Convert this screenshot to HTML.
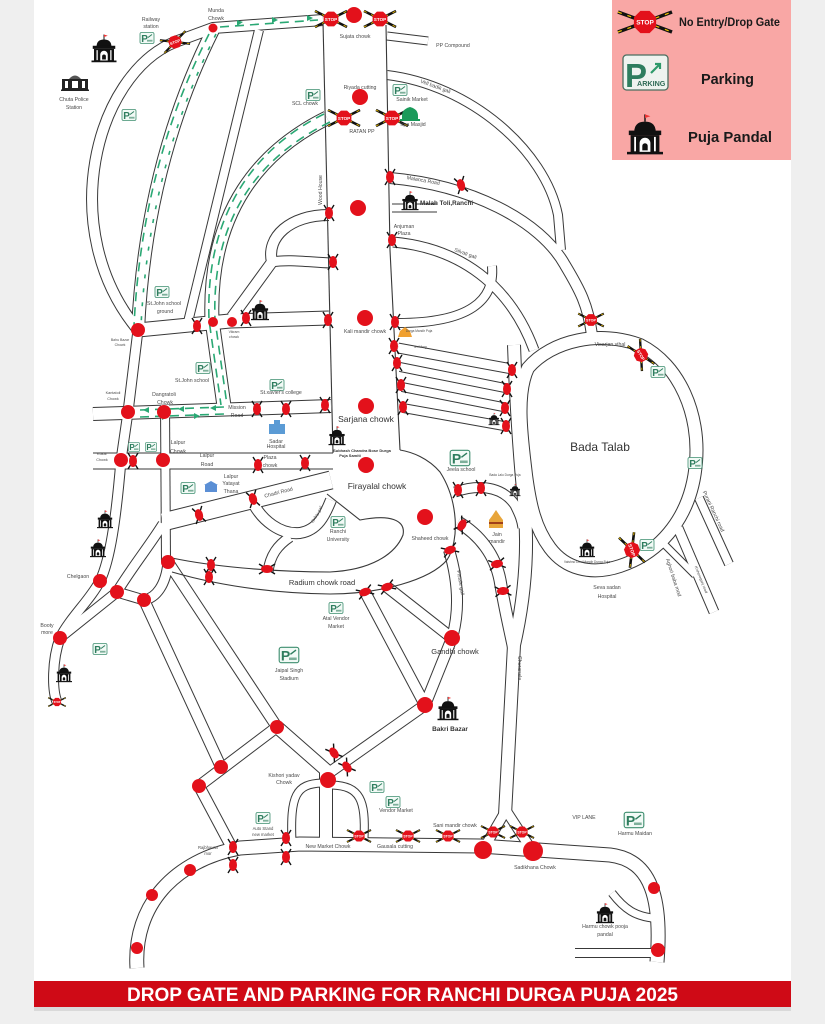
<!DOCTYPE html>
<html><head><meta charset="utf-8"><style>
html,body{margin:0;padding:0;background:#efefef;}
svg{display:block;}
text{font-family:"Liberation Sans",sans-serif;}
</style></head><body>
<svg width="825" height="1024" viewBox="0 0 825 1024" xmlns="http://www.w3.org/2000/svg">
<defs>
<g id="g">
<line x1="-5" y1="-8" x2="5" y2="8" stroke="#111" stroke-width="1.4"/>
<line x1="5" y1="-8" x2="-5" y2="8" stroke="#111" stroke-width="1.4"/>
<ellipse rx="4" ry="6" fill="#e3111b"/>
</g>
<g id="S">
<line x1="-16" y1="-8" x2="16" y2="8" stroke="#111" stroke-width="2.6"/>
<line x1="-16" y1="8" x2="16" y2="-8" stroke="#111" stroke-width="2.6"/>
<line x1="-16" y1="-8" x2="16" y2="8" stroke="#f0c000" stroke-width="0.9" stroke-dasharray="3 5"/>
<line x1="-16" y1="8" x2="16" y2="-8" stroke="#f0c000" stroke-width="0.9" stroke-dasharray="3 5"/>
<polygon points="7.4,3.1 3.1,7.4 -3.1,7.4 -7.4,3.1 -7.4,-3.1 -3.1,-7.4 3.1,-7.4 7.4,-3.1" fill="#e3111b"/>
<text x="0" y="1.8" font-size="4.6" font-weight="bold" fill="#fff" text-anchor="middle">STOP</text>
</g>
<g id="pd">
<path d="M0,-22 L0,-18" stroke="#111" stroke-width="0.8"/>
<path d="M0,-22 L3,-21 L0,-20Z" fill="#e33"/>
<path d="M-6,-12 Q-6,-18 0,-18 Q6,-18 6,-12Z" fill="#111"/>
<rect x="-9" y="-13" width="18" height="2.5" fill="#111"/>
<rect x="-8" y="-10.5" width="16" height="9.5" fill="#111"/>
<rect x="-6" y="-9.5" width="1" height="8" fill="#fff"/>
<rect x="5" y="-9.5" width="1" height="8" fill="#fff"/>
<path d="M-3,-1 L-3,-6 A3,3 0 0 1 3,-6 L3,-1Z" fill="#fff"/>
<path d="M-1.5,-2 L-1.5,-4.5 A1.5,1.5 0 0 1 1.5,-4.5 L1.5,-2Z" fill="#111"/>
<rect x="-10" y="-1.2" width="20" height="1.4" fill="#111"/>
</g>
<g id="pk">
<rect x="-7" y="-5.5" width="14" height="11" rx="1.5" fill="#f2faf6" stroke="#3f8f70" stroke-width="0.8"/>
<text x="-5.8" y="3.8" font-size="10" font-weight="bold" fill="#2e7d5e">P</text>
<path d="M1,-0.5 L5,-3.5" stroke="#2e7d5e" stroke-width="1"/>
<rect x="0" y="1.8" width="5.5" height="1.8" fill="#2e7d5e" opacity="0.6"/>
</g>
</defs>

<rect x="0" y="0" width="825" height="1024" fill="#efefef"/>
<rect x="34" y="0" width="757" height="1008" fill="#ffffff"/>

<!-- road casings -->
<g fill="none" stroke="#383838" stroke-linejoin="round">
<path d="M175,42 L213,28 L323,20" stroke-width="12"/>
<path d="M175,42 C95,75 55,230 138,330" stroke-width="12"/>
<path d="M213,30 C188,80 145,180 138,330" stroke-width="14"/>
<path d="M259,30 L188,322" stroke-width="10"/>
<path d="M327,118 C262,150 208,210 212,320 L224,406" stroke-width="15"/>
<path d="M138,330 L230,321 L329,318" stroke-width="15"/>
<path d="M329,215 C290,215 266,237 272,262 L232,317" stroke-width="12"/>
<path d="M272,262 C288,259 308,262 330,263" stroke-width="11"/>
<path d="M93,414 L331,406" stroke-width="14"/>
<path d="M93,461 L333,461" stroke-width="17"/>
<path d="M163,522 L331,480" stroke-width="19"/>
<path d="M138,330 L128,412 L121,460 C116,520 110,560 100,581 C90,600 70,618 60,638 C52,660 52,690 57,702" stroke-width="11"/>
<path d="M165,405 L166,562" stroke-width="10"/>
<path d="M163,524 C150,545 130,570 117,592 L62,636" stroke-width="11"/>
<path d="M168,562 C166,585 156,598 144,600 L117,592" stroke-width="11"/>
<path d="M144,600 L221,767" stroke-width="12"/>
<path d="M168,562 L277,727" stroke-width="12"/>
<path d="M277,727 L199,786" stroke-width="12"/>
<path d="M199,786 L232,848" stroke-width="12"/>
<path d="M277,727 L326,770 L326,842" stroke-width="14"/>
<path d="M425,705 L330,772" stroke-width="12"/>
<path d="M292,842 C290,795 296,784 322,783" stroke-width="9"/>
<path d="M332,785 C360,786 366,800 364,838" stroke-width="9"/>
<path d="M137,968 C133,905 175,860 240,848 L300,844 L480,846 L610,855 C652,860 662,900 657,962" stroke-width="15"/>
<path d="M575,953 L655,953" stroke-width="10"/>
<path d="M612,893 C625,910 636,916 652,918" stroke-width="9"/>
<path d="M390,178 C470,185 540,220 565,265 C580,290 588,305 592,335" stroke-width="12"/>
<path d="M387,75 C470,85 545,150 558,215 L561,250" stroke-width="10"/>
<path d="M393,242 C460,248 510,285 534,350" stroke-width="11"/>
<path d="M398,323 C470,323 495,300 492,266" stroke-width="10"/>
<path d="M398,348 L512,369" stroke-width="11"/>
<path d="M400,367 L510,389" stroke-width="10"/>
<path d="M402,387 L508,408" stroke-width="10"/>
<path d="M403,408 L509,427" stroke-width="10"/>
<path d="M514,345 C516,400 520,460 524,500 C530,560 522,610 514,645 L505,815" stroke-width="14"/>
<path d="M505,812 L483,850" stroke-width="11"/>
<path d="M507,812 L533,852" stroke-width="11"/>
<path d="M455,492 C485,482 505,490 515,505 C520,515 522,520 523,528" stroke-width="11"/>
<path d="M458,522 C480,535 495,555 500,580 C505,610 510,630 514,650" stroke-width="13"/>
<path d="M449,550 C458,580 460,610 452,638" stroke-width="12"/>
<path d="M452,638 L425,705" stroke-width="12"/>
<path d="M365,592 L425,705" stroke-width="12"/>
<path d="M387,587 L452,638" stroke-width="12"/>
<path d="M253,503 C262,520 280,535 300,533 C318,530 325,515 331,500" stroke-width="12"/>
<path d="M290,537 C278,545 270,555 268,572" stroke-width="11"/>
<path d="M387,36 L428,41" stroke-width="9"/>
<path d="M392,208 L437,208" stroke-width="9"/>
<path d="M528,368 C552,340 600,330 640,345 C680,365 700,415 696,462 C692,515 662,552 620,566 C590,576 565,568 550,548 C535,528 530,505 526,475 C522,440 515,395 528,368 Z" stroke-width="14"/>
<path d="M699,498 L729,564" stroke-width="10"/>
<path d="M678,528 L714,612" stroke-width="11"/>
<path d="M665,545 L695,575" stroke-width="8"/>
</g>
<!-- road fills -->
<g fill="none" stroke="#fff" stroke-linejoin="round">
<path d="M175,42 L213,28 L323,20" stroke-width="10"/>
<path d="M175,42 C95,75 55,230 138,330" stroke-width="10"/>
<path d="M213,30 C188,80 145,180 138,330" stroke-width="12"/>
<path d="M259,30 L188,322" stroke-width="8"/>
<path d="M327,118 C262,150 208,210 212,320 L224,406" stroke-width="13"/>
<path d="M138,330 L230,321 L329,318" stroke-width="13"/>
<path d="M329,215 C290,215 266,237 272,262 L232,317" stroke-width="10"/>
<path d="M272,262 C288,259 308,262 330,263" stroke-width="9"/>
<path d="M93,414 L331,406" stroke-width="12"/>
<path d="M93,461 L333,461" stroke-width="15"/>
<path d="M163,522 L331,480" stroke-width="17"/>
<path d="M138,330 L128,412 L121,460 C116,520 110,560 100,581 C90,600 70,618 60,638 C52,660 52,690 57,702" stroke-width="9"/>
<path d="M165,405 L166,562" stroke-width="8"/>
<path d="M163,524 C150,545 130,570 117,592 L62,636" stroke-width="9"/>
<path d="M168,562 C166,585 156,598 144,600 L117,592" stroke-width="9"/>
<path d="M144,600 L221,767" stroke-width="10"/>
<path d="M168,562 L277,727" stroke-width="10"/>
<path d="M277,727 L199,786" stroke-width="10"/>
<path d="M199,786 L232,848" stroke-width="10"/>
<path d="M277,727 L326,770 L326,842" stroke-width="12"/>
<path d="M425,705 L330,772" stroke-width="10"/>
<path d="M292,842 C290,795 296,784 322,783" stroke-width="7"/>
<path d="M332,785 C360,786 366,800 364,838" stroke-width="7"/>
<path d="M137,968 C133,905 175,860 240,848 L300,844 L480,846 L610,855 C652,860 662,900 657,962" stroke-width="13"/>
<path d="M575,953 L655,953" stroke-width="8"/>
<path d="M612,893 C625,910 636,916 652,918" stroke-width="7"/>
<path d="M390,178 C470,185 540,220 565,265 C580,290 588,305 592,335" stroke-width="10"/>
<path d="M387,75 C470,85 545,150 558,215 L561,250" stroke-width="8"/>
<path d="M393,242 C460,248 510,285 534,350" stroke-width="9"/>
<path d="M398,323 C470,323 495,300 492,266" stroke-width="8"/>
<path d="M398,348 L512,369" stroke-width="9"/>
<path d="M400,367 L510,389" stroke-width="8"/>
<path d="M402,387 L508,408" stroke-width="8"/>
<path d="M403,408 L509,427" stroke-width="8"/>
<path d="M514,345 C516,400 520,460 524,500 C530,560 522,610 514,645 L505,815" stroke-width="12"/>
<path d="M505,812 L483,850" stroke-width="9"/>
<path d="M507,812 L533,852" stroke-width="9"/>
<path d="M455,492 C485,482 505,490 515,505 C520,515 522,520 523,528" stroke-width="9"/>
<path d="M458,522 C480,535 495,555 500,580 C505,610 510,630 514,650" stroke-width="11"/>
<path d="M449,550 C458,580 460,610 452,638" stroke-width="10"/>
<path d="M452,638 L425,705" stroke-width="10"/>
<path d="M365,592 L425,705" stroke-width="10"/>
<path d="M387,587 L452,638" stroke-width="10"/>
<path d="M253,503 C262,520 280,535 300,533 C318,530 325,515 331,500" stroke-width="10"/>
<path d="M290,537 C278,545 270,555 268,572" stroke-width="9"/>
<path d="M387,36 L428,41" stroke-width="7"/>
<path d="M392,208 L437,208" stroke-width="7"/>
<path d="M528,368 C552,340 600,330 640,345 C680,365 700,415 696,462 C692,515 662,552 620,566 C590,576 565,568 550,548 C535,528 530,505 526,475 C522,440 515,395 528,368 Z" stroke-width="12"/>
<path d="M699,498 L729,564" stroke-width="8"/>
<path d="M678,528 L714,612" stroke-width="9"/>
<path d="M665,545 L695,575" stroke-width="6"/>
</g>
<!-- single lines -->
<g fill="none" stroke="#383838" stroke-width="1.1">
<path d="M323,22 L333,453"/>
<path d="M386,25 L390,250 L400,450"/>
<path d="M172,558 C210,566 270,572 330,572 C370,570 395,555 403,535 C406,520 390,514 360,520 L327,494"/>
<path d="M172,572 C210,583 260,593 330,594 C380,594 430,580 447,560 C460,540 458,500 440,472 C428,458 412,452 400,450"/>
</g>

<!-- green arrow lanes -->
<g fill="none" stroke="#2aa874" stroke-width="1.6" stroke-dasharray="9 6">
<path d="M220,27 L318,20"/>
<path d="M209,34 C184,84 141,180 134,326"/>
<path d="M216,34 C191,84 148,182 141,326" stroke-dasharray="4 10"/>
<path d="M324,114 C259,146 205,209 209,320 L221,405"/>
<path d="M330,122 C265,154 211,211 215,320 L227,405"/>
<path d="M140,410 L224,407"/>
<path d="M140,417 L224,414"/>
</g>
<g fill="#2aa874">
<polygon points="243,22 237,20 237,26"/><polygon points="278,20 272,17 272,23"/><polygon points="313,18 307,15 307,21"/>
<polygon points="143,410 149,407 149,413"/><polygon points="178,409 184,406 184,412"/><polygon points="210,408 216,405 216,411"/>
<polygon points="168,417 162,414 162,420"/><polygon points="200,416 194,413 194,419"/>
</g>

<!-- red dots -->
<g fill="#e3111b">
<circle cx="354" cy="15" r="8"/>
<circle cx="213" cy="28" r="4.5"/>
<circle cx="360" cy="97" r="8"/>
<circle cx="358" cy="208" r="8"/>
<circle cx="365" cy="318" r="8"/>
<circle cx="366" cy="406" r="8"/>
<circle cx="366" cy="465" r="8"/>
<circle cx="425" cy="517" r="8"/>
<circle cx="138" cy="330" r="7"/>
<circle cx="213" cy="322" r="5"/>
<circle cx="232" cy="322" r="5"/>
<circle cx="128" cy="412" r="7"/>
<circle cx="164" cy="412" r="7"/>
<circle cx="121" cy="460" r="7"/>
<circle cx="163" cy="460" r="7"/>
<circle cx="168" cy="562" r="7"/>
<circle cx="100" cy="581" r="7"/>
<circle cx="117" cy="592" r="7"/>
<circle cx="144" cy="600" r="7"/>
<circle cx="60" cy="638" r="7"/>
<circle cx="452" cy="638" r="8"/>
<circle cx="425" cy="705" r="8"/>
<circle cx="277" cy="727" r="7"/>
<circle cx="221" cy="767" r="7"/>
<circle cx="199" cy="786" r="7"/>
<circle cx="328" cy="780" r="8"/>
<circle cx="190" cy="870" r="6"/>
<circle cx="152" cy="895" r="6"/>
<circle cx="137" cy="948" r="6"/>
<circle cx="483" cy="850" r="9"/>
<circle cx="533" cy="851" r="10"/>
<circle cx="654" cy="888" r="6"/>
<circle cx="658" cy="950" r="7"/>
</g>

<!-- big stop gates -->
<use href="#S" transform="translate(331,19)"/>
<use href="#S" transform="translate(380,19)"/>
<use href="#S" transform="translate(175,42) rotate(-20) scale(0.85)"/>
<use href="#S" transform="translate(344,118)"/>
<use href="#S" transform="translate(392,118)"/>
<use href="#S" transform="translate(591,320) scale(0.8)"/>
<use href="#S" transform="translate(641,355) rotate(60) scale(0.9)"/>
<use href="#S" transform="translate(632,550) rotate(70)"/>
<use href="#S" transform="translate(359,836) scale(0.75)"/>
<use href="#S" transform="translate(408,836) scale(0.75)"/>
<use href="#S" transform="translate(448,836) scale(0.75)"/>
<use href="#S" transform="translate(493,832) scale(0.75)"/>
<use href="#S" transform="translate(522,832) scale(0.75)"/>
<use href="#S" transform="translate(57,702) scale(0.55)"/>

<!-- small gates -->
<use href="#g" transform="translate(329,213)"/>
<use href="#g" transform="translate(333,262)"/>
<use href="#g" transform="translate(328,320)"/>
<use href="#g" transform="translate(325,405)"/>
<use href="#g" transform="translate(390,177)"/>
<use href="#g" transform="translate(392,240)"/>
<use href="#g" transform="translate(395,322)"/>
<use href="#g" transform="translate(394,346)"/>
<use href="#g" transform="translate(397,363)"/>
<use href="#g" transform="translate(401,385)"/>
<use href="#g" transform="translate(403,407)"/>
<use href="#g" transform="translate(512,370)"/>
<use href="#g" transform="translate(507,389)"/>
<use href="#g" transform="translate(505,408)"/>
<use href="#g" transform="translate(506,426)"/>
<use href="#g" transform="translate(461,185) rotate(-15)"/>
<use href="#g" transform="translate(197,326)"/>
<use href="#g" transform="translate(246,318)"/>
<use href="#g" transform="translate(257,409)"/>
<use href="#g" transform="translate(286,409)"/>
<use href="#g" transform="translate(133,461)"/>
<use href="#g" transform="translate(258,465)"/>
<use href="#g" transform="translate(305,463)"/>
<use href="#g" transform="translate(199,515) rotate(-15)"/>
<use href="#g" transform="translate(253,499) rotate(-15)"/>
<use href="#g" transform="translate(211,565)"/>
<use href="#g" transform="translate(209,577)"/>
<use href="#g" transform="translate(267,569) rotate(90)"/>
<use href="#g" transform="translate(365,592) rotate(70)"/>
<use href="#g" transform="translate(387,587) rotate(70)"/>
<use href="#g" transform="translate(458,490)"/>
<use href="#g" transform="translate(481,488)"/>
<use href="#g" transform="translate(462,525) rotate(30)"/>
<use href="#g" transform="translate(450,550) rotate(70)"/>
<use href="#g" transform="translate(497,564) rotate(80)"/>
<use href="#g" transform="translate(503,591) rotate(85)"/>
<use href="#g" transform="translate(233,847)"/>
<use href="#g" transform="translate(233,865)"/>
<use href="#g" transform="translate(286,838)"/>
<use href="#g" transform="translate(286,857)"/>
<use href="#g" transform="translate(334,753) rotate(-35)"/>
<use href="#g" transform="translate(347,767) rotate(-35)"/>

<!-- parking -->
<use href="#pk" transform="translate(147,38)"/>
<use href="#pk" transform="translate(129,115)"/>
<use href="#pk" transform="translate(313,95)"/>
<use href="#pk" transform="translate(400,90)"/>
<use href="#pk" transform="translate(162,292)"/>
<use href="#pk" transform="translate(203,368)"/>
<use href="#pk" transform="translate(277,385)"/>
<use href="#pk" transform="translate(134,447) scale(0.8)"/>
<use href="#pk" transform="translate(151,447) scale(0.8)"/>
<use href="#pk" transform="translate(188,488)"/>
<use href="#pk" transform="translate(338,522)"/>
<use href="#pk" transform="translate(336,608)"/>
<use href="#pk" transform="translate(100,649)"/>
<use href="#pk" transform="translate(289,655) scale(1.4)"/>
<use href="#pk" transform="translate(377,787)"/>
<use href="#pk" transform="translate(393,802)"/>
<use href="#pk" transform="translate(263,818)"/>
<use href="#pk" transform="translate(460,458) scale(1.4)"/>
<use href="#pk" transform="translate(634,820) scale(1.4)"/>
<use href="#pk" transform="translate(658,372)"/>
<use href="#pk" transform="translate(695,463)"/>
<use href="#pk" transform="translate(647,545)"/>

<!-- pandals -->
<use href="#pd" transform="translate(104,62) scale(1.25)"/>
<use href="#pd" transform="translate(260,320) scale(0.9)"/>
<use href="#pd" transform="translate(410,210) scale(0.85)"/>
<use href="#pd" transform="translate(337,445) scale(0.85)"/>
<use href="#pd" transform="translate(105,528) scale(0.8)"/>
<use href="#pd" transform="translate(98,557) scale(0.8)"/>
<use href="#pd" transform="translate(64,682) scale(0.8)"/>
<use href="#pd" transform="translate(494,425) scale(0.55)"/>
<use href="#pd" transform="translate(515,496) scale(0.55)"/>
<use href="#pd" transform="translate(587,557) scale(0.8)"/>
<use href="#pd" transform="translate(448,720) scale(1.05)"/>
<use href="#pd" transform="translate(605,923) scale(0.9)"/>

<!-- police station -->
<g transform="translate(75,91)">
<rect x="-13" y="-12" width="26" height="11" fill="#222"/>
<path d="M-6,-12 Q0,-19 6,-12Z" fill="#555"/>
<rect x="-10" y="-10" width="3" height="7" fill="#fff"/><rect x="-3" y="-10" width="6" height="7" fill="#fff"/><rect x="7" y="-10" width="3" height="7" fill="#fff"/>
<rect x="-14" y="-1.5" width="28" height="1.5" fill="#222"/>
</g>
<!-- masjid -->
<g transform="translate(410,120)"><path d="M-8,0 L-8,-4 Q-8,-11 0,-13 Q8,-11 8,-4 L8,0Z" fill="#1a9a5a"/><rect x="-10" y="-1" width="20" height="2" fill="#1a9a5a"/></g>
<!-- orange temple -->
<g transform="translate(405,337)"><path d="M-7,0 L-5,-6 L0,-10 L5,-6 L7,0Z" fill="#f0a030"/></g>
<!-- jain mandir -->
<g transform="translate(496,528)"><path d="M-7,0 L-7,-8 L-4,-12 L0,-18 L4,-12 L7,-8 L7,0Z" fill="#e8a53a"/><rect x="-7" y="-6" width="14" height="2" fill="#a0401a"/></g>
<!-- hospital -->
<g transform="translate(277,432)" fill="#5b9bd5"><rect x="-8" y="-8" width="16" height="10"/><rect x="-3" y="-12" width="6" height="4"/></g>
<g transform="translate(211,491)" fill="#5b8fd5"><rect x="-6" y="-6" width="12" height="7"/><path d="M-7,-6 L0,-10 L7,-6Z"/></g>

<!-- labels -->
<g fill="#4a4a4a" font-size="5.2" text-anchor="middle">
<text x="151" y="21">Railway</text><text x="151" y="28">station</text>
<text x="216" y="12">Munda</text><text x="216" y="20">Chowk</text>
<text x="355" y="38">Sujata chowk</text>
<text x="453" y="47">PP Compound</text>
<text x="74" y="101">Chuta Police</text><text x="74" y="109">Station</text>
<text x="360" y="89">Riyada cutting</text>
<text x="305" y="105">SCL chowk</text>
<text x="412" y="101">Sainik Market</text>
<text x="362" y="133">RATAN PP</text>
<text x="413" y="126">Iqra Masjid</text>
<text x="435" y="88" transform="rotate(20 435 88)">Vell badik gali</text>
<text x="322" y="190" transform="rotate(-90 322 190)">Wood House</text>
<text x="423" y="182" transform="rotate(10 423 182)">Malanca Road</text>
<text x="404" y="228">Anjuman</text><text x="404" y="235">Plaza</text>
<text x="465" y="255" transform="rotate(20 465 255)">Silvati gali</text>
<text x="164" y="305">St.John school</text><text x="165" y="313">ground</text>
<text x="120" y="341" font-size="3.5">Bahu Bazar</text><text x="120" y="346" font-size="3.5">Chowk</text>
<text x="234" y="333" font-size="3.5">Vikram</text><text x="234" y="338" font-size="3.5">chowk</text>
<text x="365" y="333">Kali mandir chowk</text>
<text x="192" y="382">St.John school</text>
<text x="281" y="394">St.xavier's college</text>
<text x="113" y="394" font-size="3.8">Kantatoli</text><text x="113" y="400" font-size="3.8">Chowk</text>
<text x="164" y="396">Dangratoli</text><text x="165" y="404">Chowk</text>
<text x="237" y="409">Mission</text><text x="237" y="417">Road</text>
<text x="276" y="443">Sadar</text><text x="276" y="448">Hospital</text>
<text x="102" y="455" font-size="3.8">Kokar</text><text x="102" y="461" font-size="3.8">Chowk</text>
<text x="178" y="444">Lalpur</text><text x="178" y="453">Chowk</text>
<text x="207" y="457">Lalpur</text><text x="207" y="466">Road</text>
<text x="270" y="459">Plaza</text><text x="270" y="467">chowk</text>
<text x="231" y="478">Lalpur</text><text x="231" y="485">Yatayat</text><text x="231" y="493">Thana</text>
<text x="279" y="494" transform="rotate(-15 279 494)">Chadri Road</text>
<text x="318" y="515" transform="rotate(-60 318 515)" font-size="4.2">Oxbry gali</text>
<text x="338" y="533">Ranchi</text><text x="338" y="541">University</text>
<text x="430" y="540">Shaheed chowk</text>
<text x="461" y="471">Jeela school</text>
<text x="497" y="536">Jain</text><text x="497" y="543">mandir</text>
<text x="78" y="578">Chelgaon</text>
<text x="47" y="627">Booty</text><text x="47" y="634">more</text>
<text x="336" y="620">Atal Vendor</text><text x="336" y="628">Market</text>
<text x="459" y="583" transform="rotate(80 459 583)">Pistale gali</text>
<text x="518" y="668" transform="rotate(90 518 668)">Churanala</text>
<text x="289" y="672">Jaipal Singh</text><text x="289" y="680">Stadium</text>
<text x="284" y="777">Kishori yadav</text><text x="284" y="784">Chowk</text>
<text x="396" y="812">Vendor Market</text>
<text x="263" y="830" font-size="4.2">Auto Stand</text><text x="263" y="836" font-size="4.2">new market</text>
<text x="208" y="849" font-size="4.2">Rajbhavan</text><text x="208" y="855" font-size="4.2">mor</text>
<text x="328" y="848">New Market Chowk</text>
<text x="395" y="848">Gausala cutting</text>
<text x="455" y="827">Sani mandir chowk</text>
<text x="535" y="869">Sadikhana Chowk</text>
<text x="584" y="819">VIP LANE</text>
<text x="635" y="835">Harmu Maidan</text>
<text x="605" y="928">Harmu chowk pooja</text><text x="605" y="936">pandal</text>
<text x="610" y="346">Visarjan vihal</text>
<text x="712" y="512" transform="rotate(65 712 512)">Purani Ranchi road</text>
<text x="672" y="578" transform="rotate(72 672 578)">Aghori baba mod</text>
<text x="700" y="580" transform="rotate(68 700 580)" font-size="3.8">Kishoreganj road</text>
<text x="607" y="589">Seva sadan</text><text x="607" y="598">Hospital</text>
<text x="587" y="563" font-size="3.2">Vaishno Devi Mandir Durga Puja</text>
<text x="419" y="332" font-size="3.2">Durga Mandir Puja</text>
<text x="420" y="348" font-size="3.2">Teri Marg</text>
<text x="505" y="476" font-size="3.2">Bada Lalu Durga Puja</text>
</g>
<g fill="#333" font-weight="bold" text-anchor="middle">
<text x="420" y="205" font-size="6.3" text-anchor="start">Malah Toli,Ranchi</text>
<text x="362" y="452" font-size="4">Subhash Chandra Bose Durga</text><text x="350" y="457" font-size="4">Puja Samiti</text>
<text x="450" y="731" font-size="6.5">Bakri Bazar</text>
</g>
<g fill="#333" text-anchor="middle">
<text x="366" y="422" font-size="8.5">Sarjana chowk</text>
<text x="377" y="489" font-size="8.5">Firayalal chowk</text>
<text x="322" y="585" font-size="7.5">Radium chowk road</text>
<text x="455" y="654" font-size="7.5">Gandhi chowk</text>
<text x="600" y="451" font-size="12">Bada Talab</text>
</g>

<!-- legend -->
<rect x="612" y="0" width="179" height="160" fill="#f9a7a5"/>
<g transform="translate(645,22)">
<line x1="-27" y1="-10" x2="27" y2="10" stroke="#111" stroke-width="3.5"/>
<line x1="-27" y1="10" x2="27" y2="-10" stroke="#111" stroke-width="3.5"/>
<line x1="-27" y1="-10" x2="27" y2="10" stroke="#f0c000" stroke-width="1.2" stroke-dasharray="4 6"/>
<line x1="-27" y1="10" x2="27" y2="-10" stroke="#f0c000" stroke-width="1.2" stroke-dasharray="4 6"/>
<polygon points="11.1,4.6 4.6,11.1 -4.6,11.1 -11.1,4.6 -11.1,-4.6 -4.6,-11.1 4.6,-11.1 11.1,-4.6" fill="#e3111b"/>
<text x="0" y="2.5" font-size="6.5" font-weight="bold" fill="#fff" text-anchor="middle">STOP</text>
</g>
<text x="679" y="26" font-size="11.5" font-weight="bold" fill="#1a1a1a" textLength="101" lengthAdjust="spacingAndGlyphs">No Entry/Drop Gate</text>
<rect x="623" y="55" width="45" height="35" rx="3.5" fill="#eef3ef" stroke="#4a6e5f" stroke-width="1.3"/>
<text x="625" y="87" font-size="33" font-weight="bold" fill="#2e7d5e">P</text>
<text x="637" y="86" font-size="7.2" font-weight="bold" fill="#2e6a55">ARKING</text>
<path d="M651,73 L660,64 M655,64 L660,64 L660,69" stroke="#2e9a6a" stroke-width="2.2" fill="none"/>
<text x="701" y="84" font-size="15" font-weight="bold" fill="#1a1a1a" textLength="53" lengthAdjust="spacingAndGlyphs">Parking</text>
<use href="#pd" transform="translate(645,154) scale(1.8)"/>
<text x="688" y="142" font-size="15" font-weight="bold" fill="#1a1a1a" textLength="84" lengthAdjust="spacingAndGlyphs">Puja Pandal</text>

<!-- banner -->
<rect x="34" y="1007" width="757" height="4" fill="#d9d9d9"/>
<rect x="34" y="981" width="757" height="26" fill="#cf0a16"/>
<text x="402.5" y="1001" font-size="19" font-weight="bold" fill="#fff" text-anchor="middle" textLength="551" lengthAdjust="spacingAndGlyphs">DROP GATE AND PARKING FOR RANCHI DURGA PUJA 2025</text>
</svg>
</body></html>
